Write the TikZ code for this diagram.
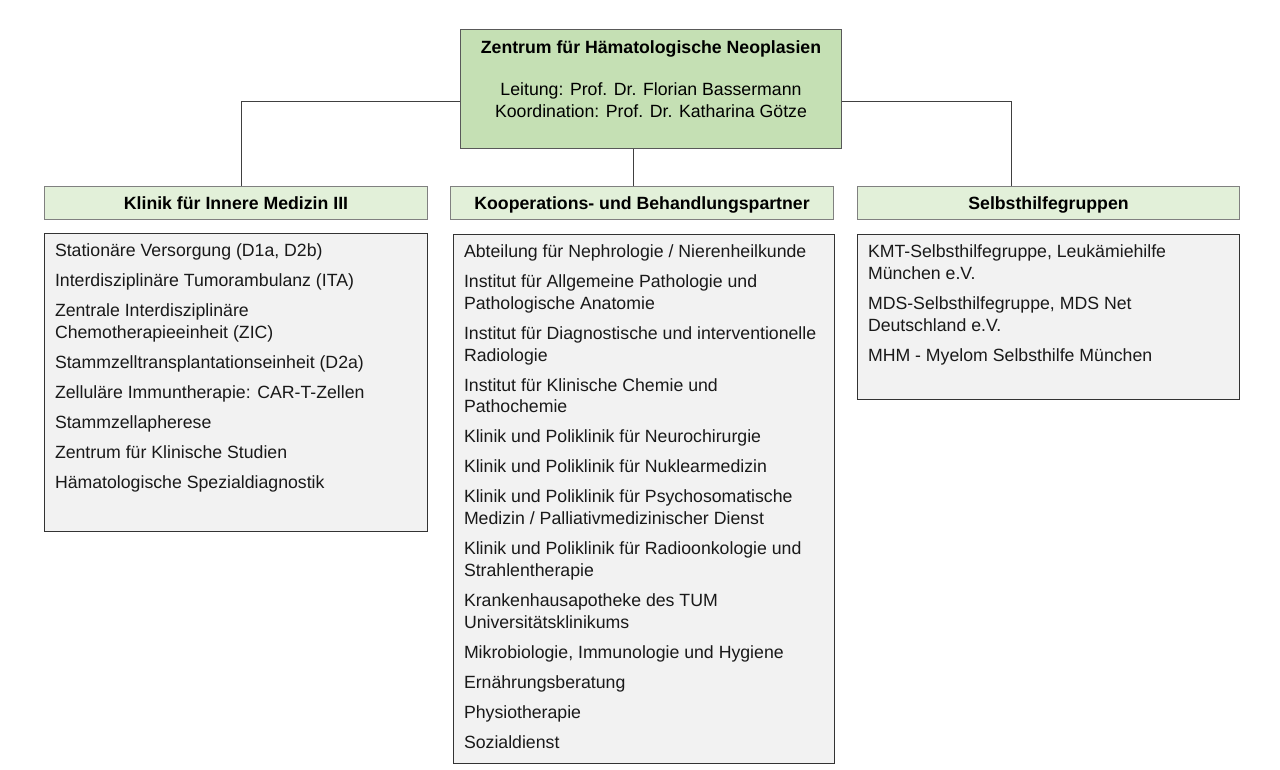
\documentclass[tikz,border=0pt]{standalone}
\usepackage{fontspec}
\setmainfont{Liberation Sans}
\usetikzlibrary{arrows,shapes}
\definecolor{topgreen}{HTML}{C5E0B4}
\definecolor{headgreen}{HTML}{E2F0D9}
\definecolor{listgray}{HTML}{F2F2F2}
\newcommand{\boxfont}{\fontsize{17.7}{21.7}\selectfont}
\newcommand{\itemgap}{\\[8.3pt]}
\tikzstyle{topbox}=[draw=black!65,fill=topgreen,line width=1pt,inner sep=0pt,anchor=north west,font=\boxfont]
\tikzstyle{headbox}=[draw=black!50,fill=headgreen,line width=1pt,inner sep=0pt,minimum height=33pt,text height=12.9pt,text depth=0pt,anchor=north west,font=\boxfont\bfseries]
\tikzstyle{listbox}=[draw=black!80,fill=listgray,line width=1pt,inner xsep=10.5pt,inner ysep=0pt,anchor=north west,font=\boxfont,text=black!90]
\tikzstyle{edge} = [draw,black!75,line width=1pt,-]

\begin{document}
\begin{tikzpicture}[x=1pt,y=-1pt]
    \useasboundingbox (0,0) rectangle (1280,769);
    % The centre at the top
    \node[topbox] (zentrum) at (460,29) {\parbox[t][119pt][t]{381pt}{\centering\rule{0pt}{24pt}\textbf{Zentrum für Hämatologische Neoplasien}\\[20.3pt]
        Leitung: Prof. Dr. Florian Bassermann\\
        Koordination: Prof. Dr. Katharina Götze}};
    % Then the three column heads
    \foreach \pos/\name/\w/\txt in {{(44,186)/klinik/383/Klinik für Innere Medizin III}, {(450,186)/partner/383/Kooperations- und Behandlungspartner}, {(857,186)/selbst/382/Selbsthilfegruppen}}
        \node[headbox,minimum width=\w pt] (\name) at \pos {\txt};
    % The lists below the heads
    \node[listbox] (klinikList) at (44,233) {\parbox[t][298pt][t]{362pt}{\raggedright\rule{0pt}{23.3pt}Stationäre Versorgung (D1a, D2b)\itemgap
        Interdisziplinäre Tumorambulanz (ITA)\itemgap
        Zentrale Interdisziplinäre\\ Chemotherapieeinheit (ZIC)\itemgap
        Stammzelltransplantationseinheit (D2a)\itemgap
        Zelluläre Immuntherapie: CAR-T-Zellen\itemgap
        Stammzellapherese\itemgap
        Zentrum für Klinische Studien\itemgap
        Hämatologische Spezialdiagnostik}};
    \node[listbox] (partnerList) at (453,234) {\parbox[t][529pt][t]{360pt}{\raggedright\rule{0pt}{23.3pt}Abteilung für Nephrologie / Nierenheilkunde\itemgap
        Institut für Allgemeine Pathologie und\\ Pathologische Anatomie\itemgap
        Institut für Diagnostische und interventionelle\\ Radiologie\itemgap
        Institut für Klinische Chemie und\\ Pathochemie\itemgap
        Klinik und Poliklinik für Neurochirurgie\itemgap
        Klinik und Poliklinik für Nuklearmedizin\itemgap
        Klinik und Poliklinik für Psychosomatische\\ Medizin / Palliativmedizinischer Dienst\itemgap
        Klinik und Poliklinik für Radioonkologie und\\ Strahlentherapie\itemgap
        Krankenhausapotheke des TUM\\ Universitätsklinikums\itemgap
        Mikrobiologie, Immunologie und Hygiene\itemgap
        Ernährungsberatung\itemgap
        Physiotherapie\itemgap
        Sozialdienst}};
    \node[listbox] (selbstList) at (857,234) {\parbox[t][165pt][t]{361pt}{\raggedright\rule{0pt}{23.3pt}KMT-Selbsthilfegruppe, Leukämiehilfe\\ München e.V.\itemgap
        MDS-Selbsthilfegruppe, MDS Net\\ Deutschland e.V.\itemgap
        MHM - Myelom Selbsthilfe München}};
    % Where the lines meet the heads
    \coordinate (jK) at ([xshift=5.5pt]klinik.north);
    \coordinate (jP) at ([xshift=-8.5pt]partner.north);
    \coordinate (jS) at ([xshift=-37pt]selbst.north);
    \coordinate (jZ) at ([yshift=-12.5pt]zentrum.center);
    % Connect the centre with the heads
    \foreach \side/\dest in {west/jK, east/jS}
        \path[edge] (zentrum.\side |- jZ) -| (\dest);
    \path[edge] (zentrum.south -| jP) -- (jP);
\end{tikzpicture}
\end{document}
